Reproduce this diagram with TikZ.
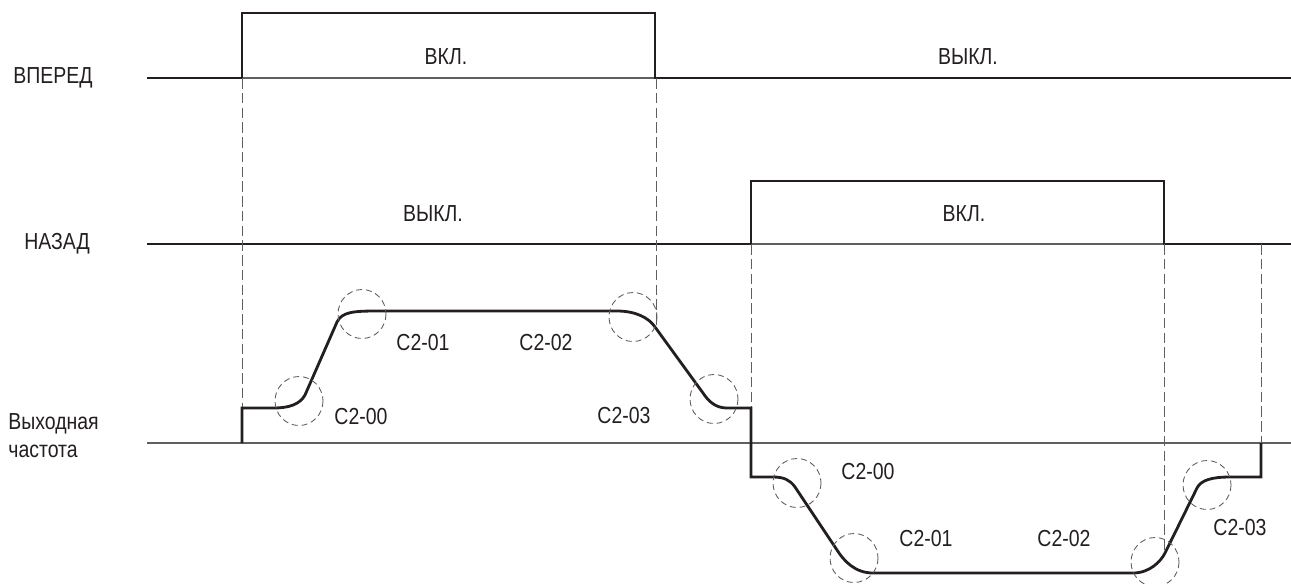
\documentclass[tikz,border=0pt]{standalone}
\usepackage{fontspec}
\setmainfont[FakeStretch=0.84]{Liberation Sans}
\usetikzlibrary{positioning}
\definecolor{inkgray}{RGB}{35,31,32}
\definecolor{guidegray}{RGB}{95,95,95}

\begin{document}
\begin{tikzpicture}[
    x=0.02cm, y=-0.02cm,
    signal/.style={line width=1.6pt, inkgray, line join=miter},
    baseline/.style={line width=0.7pt, guidegray},
    guide/.style={line width=0.5pt, guidegray, dash pattern=on 6pt off 2.4pt},
    zone/.style={line width=0.5pt, guidegray, dash pattern=on 3.4pt off 2.2pt},
    siglabel/.style={font=\fontsize{13.2}{16}\selectfont, inkgray, inner sep=0pt},
    parlabel/.style={font=\fontsize{13.2}{16}\selectfont, inkgray, inner sep=0pt},
]
    \useasboundingbox (0,0) rectangle (1291,583);

    % Signal names
    \node[siglabel, anchor=west] (fwdname) at (13,78) {ВПЕРЕД};
    \node[siglabel, anchor=west] (revname) at (24,244) {НАЗАД};
    \node[siglabel, anchor=west, align=left] (freqname) at (8,436) {Выходная\\частота};

    % Forward
    \draw[baseline] (242,78) -- (655,78);
    \draw[signal] (147,78) -- (242,78) -- (242,13) -- (655,13) -- (655,78) -- (1291,78);
    \node[siglabel] (fwdon) at (446,57) {ВКЛ.};
    \node[siglabel] (fwdoff) at (968,57) {ВЫКЛ.};

    % Reverse
    \draw[baseline] (751,244) -- (1164,244);
    \draw[signal] (147,244) -- (751,244) -- (751,181) -- (1164,181) -- (1164,244) -- (1291,244);
    \node[siglabel] (revoff) at (433,214) {ВЫКЛ.};
    \node[siglabel] (revon) at (964,214) {ВКЛ.};

    % Output frequency axis
    \draw[baseline] (147,443) -- (1291,443);

    % Timing guides
    \draw[guide] (242,78) -- (242,408);
    \draw[guide] (656,78) -- (656,326);
    \draw[guide] (751,244) -- (751,408);
    \draw[guide] (1164,244) -- (1164,553);
    \draw[guide] (1261,244) -- (1261,443);

    % Output frequency
    \draw[signal] (242,443) -- (242,408) -- (273,408)
        .. controls (290,408) and (300,404) .. (305,395) -- (337,322)
        .. controls (342,312) and (353,311) .. (377,311) -- (617,311)
        .. controls (636,311) and (649,318) .. (655,327) -- (703,393)
        .. controls (709,402) and (716,408) .. (727,408) -- (751,408)
        -- (751,477) -- (773,477)
        .. controls (784,477) and (790,480) .. (795,487) -- (837,550)
        .. controls (844,561) and (855,573) .. (873,573) -- (1133,573)
        .. controls (1150,573) and (1161,561) .. (1165,553) -- (1197,488)
        .. controls (1201,480) and (1212,477) .. (1230,477) -- (1261,477)
        -- (1261,443);

    % S-curve zones
    \foreach \cx/\cy in {299/401, 362/314, 633/317, 714/399, 797/483, 854/558, 1155/562, 1207/485}
        \draw[zone] (\cx,\cy) ellipse [x radius=24, y radius=24.5];

    % Parameter labels
    \node[parlabel] (fwdsa) at (361,417) {C2-00};
    \node[parlabel] (fwdsb) at (423,343) {C2-01};
    \node[parlabel] (fwdsc) at (546,343) {C2-02};
    \node[parlabel] (fwdsd) at (624,416) {C2-03};
    \node[parlabel] (revsa) at (868,472) {C2-00};
    \node[parlabel] (revsb) at (926,539) {C2-01};
    \node[parlabel] (revsc) at (1064,539) {C2-02};
    \node[parlabel] (revsd) at (1240,528) {C2-03};
\end{tikzpicture}
\end{document}
